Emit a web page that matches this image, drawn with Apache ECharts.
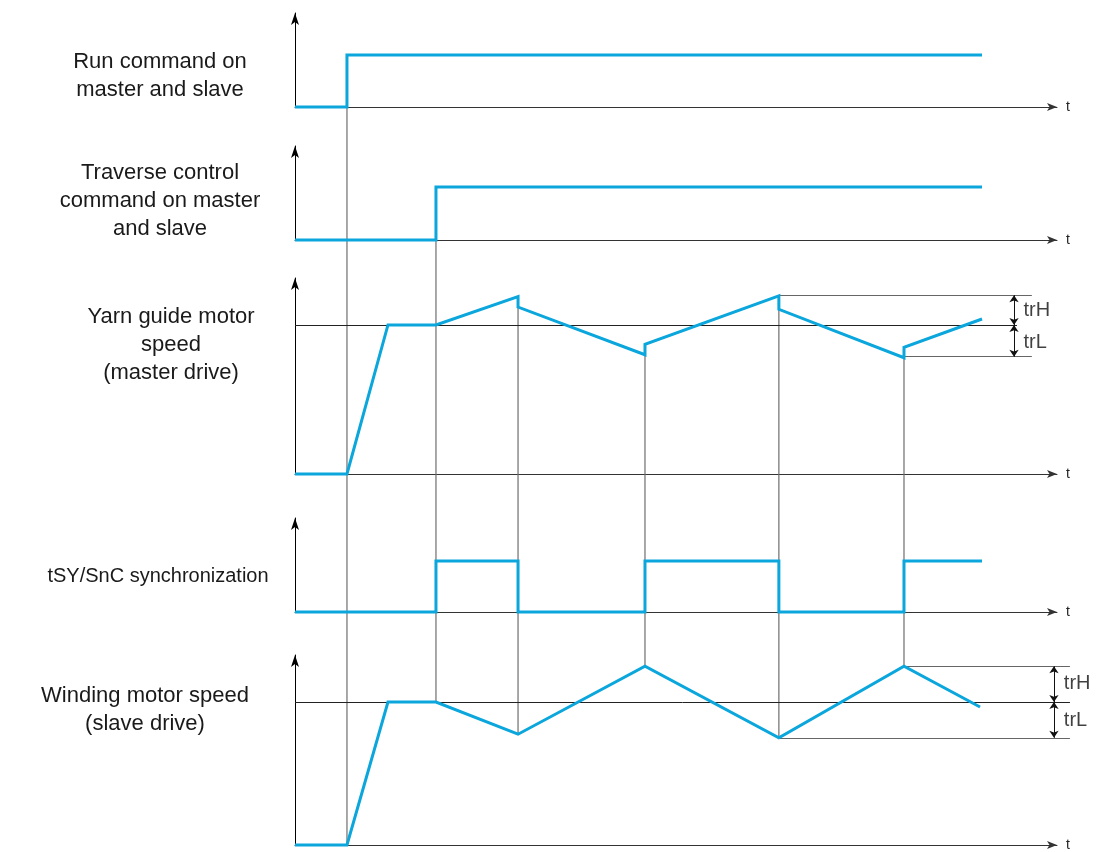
<!DOCTYPE html>
<html>
<head>
<meta charset="utf-8">
<style>
  html, body { margin: 0; padding: 0; background: #fff; }
  #chartBox { width: 1103px; height: 852px; }
</style>
<script src="https://cdn.jsdelivr.net/npm/echarts@6/dist/echarts.min.js"></script>
</head>
<body>
<div id="chartBox"></div>
<script>
// time events (arbitrary units, 0..100 on the t axis)
var runCmd = [[0, 0], [6.82, 0], [6.82, 1], [90.16, 1]];
var traverseCmd = [[0, 0], [18.5, 0], [18.5, 1], [90.16, 1]];
var yarnSpeed = [[0, 0], [6.82, 0], [12.2, 100], [18.5, 100], [29.27, 119], [29.27, 112], [45.93, 80], [45.93, 87],
	[63.5, 119.5], [63.5, 110.5], [79.92, 78], [79.92, 85], [90.16, 104]];
var syncSignal = [[0, 0], [18.5, 0], [18.5, 1], [29.27, 1], [29.27, 0], [45.93, 0], [45.93, 1], [63.5, 1], [63.5, 0],
	[79.92, 0], [79.92, 1], [90.16, 1]];
var windSpeed = [[0, 0], [6.82, 0], [12.2, 100], [18.5, 100], [29.27, 77.5], [45.93, 125], [63.5, 75], [79.92, 125], [89.9, 96.5]];

// trH / trL levels (speed %, 100 = reference)
var yarnRef = 100, yarnHigh = 120, yarnLow = 78.7;
var windRef = 100, windHigh = 125, windLow = 75;

var panelLabels = [
	["Run command on", "master and slave"],
	["Traverse control", "command on master", "and slave"],
	["Yarn guide motor", "speed", "(master drive)"],
	["tSY/SnC synchronization"],
	["Winding motor speed", "(slave drive)"]
];

var blue = '#0aa6dc';
var fontName = '"Liberation Sans", Arial, sans-serif';

// layout of the 5 panels
var panels = [
	{top: 13, height: 94, max: 1.81, labelX: 160, labelY: 76, font: 22},
	{top: 146, height: 94, max: 1.77, labelX: 160, labelY: 201, font: 22},
	{top: 278, height: 196, max: 131.5, labelX: 171, labelY: 345, font: 22},
	{top: 518, height: 94, max: 1.84, labelX: 158, labelY: 576, font: 20},
	{top: 655, height: 194, max: 132.9, labelX: 145, labelY: 710, font: 22}
];
var signals = [runCmd, traverseCmd, yarnSpeed, syncSignal, windSpeed];

var myChart = echarts.init(document.getElementById('chartBox'));

var grids = [], xAxes = [], yAxes = [], series = [];
panels.forEach(function (p, i) {
	grids.push({left: 295, right: 46, top: p.top, height: p.height});
	xAxes.push({
		type: 'value', gridIndex: i, min: 0, max: 100,
		axisLine: {show: true, onZero: false, symbol: ['none', 'arrow'], symbolSize: [6, 10], lineStyle: {color: '#333', width: 1}},
		axisTick: {show: false}, axisLabel: {show: false}, splitLine: {show: false},
		name: 't', nameLocation: 'end', nameGap: 9,
		nameTextStyle: {color: '#222', fontSize: 14, fontFamily: fontName, verticalAlign: 'middle'}
	});
	yAxes.push({
		type: 'value', gridIndex: i, min: 0, max: p.max,
		axisLine: {show: true, symbol: ['none', 'arrow'], symbolSize: [6, 12], lineStyle: {color: '#000', width: 1}},
		axisTick: {show: false}, axisLabel: {show: false}, splitLine: {show: false}
	});
	series.push({
		type: 'line', xAxisIndex: i, yAxisIndex: i, data: signals[i],
		symbol: 'none', z: 5, clip: false,
		lineStyle: {color: blue, width: 3, join: 'miter'}
	});
});

// reference lines + trH / trL annotations
function refSeries(idx, lines, arrows, texts) {
	var data = [];
	lines.forEach(function (l) {
		data.push({coords: [[l[0], l[2]], [l[1], l[2]]], lineStyle: {color: l[3]}});
	});
	series.push({
		type: 'lines', coordinateSystem: 'cartesian2d', xAxisIndex: idx, yAxisIndex: idx,
		z: 2, clip: false, silent: true, symbol: ['none', 'none'],
		lineStyle: {color: '#333', width: 1, opacity: 1, curveness: 0},
		data: data
	});
	series.push({
		type: 'lines', coordinateSystem: 'cartesian2d', xAxisIndex: idx, yAxisIndex: idx,
		z: 3, clip: false, silent: true, symbol: ['arrow', 'arrow'], symbolSize: 7,
		lineStyle: {color: '#111', width: 1, opacity: 1, curveness: 0},
		data: arrows.map(function (a) { return {coords: [[a[0], a[1]], [a[0], a[2]]]}; })
	});
	series.push({
		type: 'scatter', xAxisIndex: idx, yAxisIndex: idx, symbolSize: 0, z: 6, clip: false, silent: true,
		data: texts,
		label: {show: true, position: 'right', distance: 0, formatter: function (d) { return d.value[2]; },
			color: '#111', fontSize: 20, fontFamily: fontName}
	});
}

refSeries(2,
	[[0, 94.75, yarnRef, '#222'], [63.5, 96.7, yarnHigh, '#666'], [79.92, 96.7, yarnLow, '#666']],
	[[94.36, yarnHigh, yarnRef], [94.36, yarnRef, yarnLow]],
	[[95.6, 110, 'trH'], [95.6, 88.5, 'trL']]);
refSeries(4,
	[[0, 101.7, windRef, '#222'], [79.92, 101.7, windHigh, '#666'], [63.5, 101.7, windLow, '#666']],
	[[99.6, windHigh, windRef], [99.6, windRef, windLow]],
	[[100.9, 113, 'trH'], [100.9, 87, 'trL']]);

myChart.setOption({
	animation: false,
	backgroundColor: '#fff',
	grid: grids,
	xAxis: xAxes,
	yAxis: yAxes,
	series: series
});

// vertical connectors between panels: [t, fromPanel, fromValue, toPanel, toValue]
var connectors = [
	[6.82, 0, 1, 4, 0],
	[18.5, 1, 1, 4, windRef],
	[29.27, 2, 119, 4, 77.5],
	[45.93, 2, 87, 4, windHigh],
	[63.5, 2, yarnHigh, 4, windLow],
	[79.92, 2, yarnLow, 4, windHigh]
];

var graphics = [];
connectors.forEach(function (c) {
	var p1 = myChart.convertToPixel({gridIndex: c[1]}, [c[0], c[2]]);
	var p2 = myChart.convertToPixel({gridIndex: c[3]}, [c[0], c[4]]);
	graphics.push({
		type: 'line', z: 1, silent: true,
		shape: {x1: p1[0], y1: p1[1], x2: p2[0], y2: p2[1]},
		style: {stroke: '#6e6e6e', lineWidth: 1.2}
	});
});

// panel titles on the left
var lineH = 28;
panels.forEach(function (p, i) {
	var lines = panelLabels[i];
	var y0 = p.labelY - (lines.length - 1) * lineH / 2;
	lines.forEach(function (txt, k) {
		graphics.push({
			type: 'text', silent: true, x: p.labelX, y: y0 + k * lineH,
			style: {text: txt, fill: '#1a1a1a', font: p.font + 'px ' + fontName, textAlign: 'center', textVerticalAlign: 'middle'}
		});
	});
});

myChart.setOption({graphic: graphics});
</script>
</body>
</html>
